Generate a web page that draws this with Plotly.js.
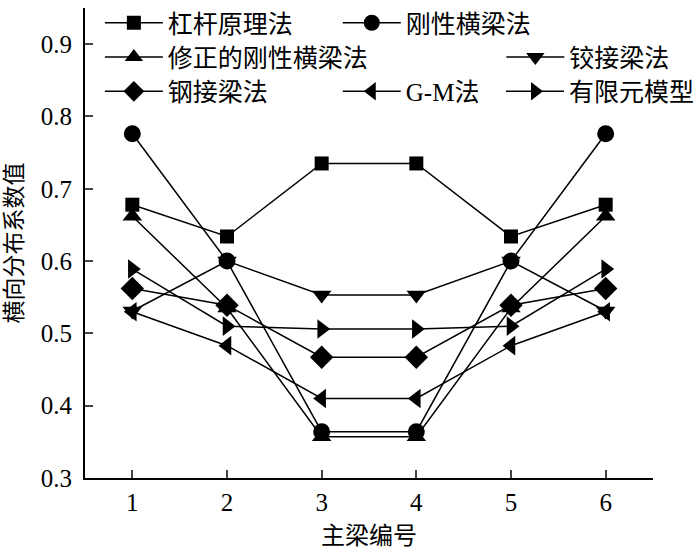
<!DOCTYPE html>
<html>
<head>
<meta charset="utf-8">
<script src="https://cdn.plot.ly/plotly-3.0.1.min.js"></script>
<style>
  body { margin: 0; background: #fff; }
  #plot { width: 700px; height: 554px; }
</style>
</head>
<body>
<div id="plot"></div>
<script>
// girder numbers
var girders = [1, 2, 3, 4, 5, 6];

// lateral distribution coefficients for each method
var lever      = [0.678, 0.634, 0.735, 0.735, 0.634, 0.678];
var rigid      = [0.776, 0.600, 0.364, 0.364, 0.600, 0.776];
var modRigid   = [0.662, 0.535, 0.357, 0.357, 0.535, 0.662];
var hinged     = [0.531, 0.600, 0.553, 0.553, 0.600, 0.531];
var rigidJoint = [0.562, 0.539, 0.467, 0.467, 0.539, 0.562];
var gm         = [0.530, 0.483, 0.410, 0.410, 0.483, 0.530];
var fem        = [0.589, 0.510, 0.506, 0.506, 0.510, 0.589];

var names = ["杠杆原理法", "刚性横梁法", "修正的刚性横梁法", "铰接梁法", "钢接梁法", "G-M法", "有限元模型"];
var series = [lever, rigid, modRigid, hinged, rigidJoint, gm, fem];
var symbols = ["square", "circle", "triangle-up", "triangle-down", "diamond", "triangle-left", "triangle-right"];
var sizes = [14, 17, 17, 17, 18, 17, 17];

var font = "Liberation Serif, Times New Roman, Noto Sans CJK SC, serif";

// one small legend per trace (legend2 .. legend8) so each entry can sit where the original has it
var data = series.map(function (ys, i) {
  return {
    x: girders,
    y: ys,
    name: names[i],
    mode: "lines+markers",
    type: "scatter",
    legend: "legend" + (i + 2),
    line: { color: "#000", width: 1.5 },
    marker: { color: "#000", symbol: symbols[i], size: sizes[i] }
  };
});

// legend slots: [left px, center y px]
var slots = [[100, 15], [340, 15], [100, 50], [505, 50], [100, 85], [340, 85], [505, 85]];

function legendAt(s) {
  return {
    x: (s[0] - 85) / 573,
    y: 1 - s[1] / 478,
    xanchor: "left",
    yanchor: "middle",
    bgcolor: "rgba(0,0,0,0)",
    borderwidth: 0,
    itemwidth: 58,
    font: { family: font, size: 25, color: "#000" }
  };
}

var layout = {
  width: 700,
  height: 554,
  margin: { l: 85, r: 42, t: 0, b: 76 },
  paper_bgcolor: "#fff",
  plot_bgcolor: "#fff",
  font: { family: font, color: "#000", size: 24 },
  xaxis: {
    range: [0.5, 6.5],
    tickvals: girders,
    ticks: "inside",
    ticklen: 8,
    tickwidth: 1.5,
    showline: true,
    linewidth: 2,
    linecolor: "#000",
    showgrid: false,
    zeroline: false,
    ticklabelstandoff: 1,
    tickfont: { size: 25 },
    title: { text: "主梁编号", font: { size: 24 }, standoff: 12 }
  },
  yaxis: {
    range: [0.3, 0.95],
    tickvals: [0.3, 0.4, 0.5, 0.6, 0.7, 0.8, 0.9],
    ticktext: ["0.3", "0.4", "0.5", "0.6", "0.7", "0.8", "0.9"],
    ticks: "inside",
    ticklen: 8,
    tickwidth: 1.5,
    showline: true,
    linewidth: 2,
    linecolor: "#000",
    showgrid: false,
    zeroline: false,
    ticklabelstandoff: 6,
    tickfont: { size: 25 },
    title: { text: "横向分布系数值", font: { size: 23 }, standoff: 12 }
  }
};

slots.forEach(function (s, i) {
  layout["legend" + (i + 2)] = legendAt(s);
});

Plotly.newPlot("plot", data, layout, { displayModeBar: false });
</script>
</body>
</html>
